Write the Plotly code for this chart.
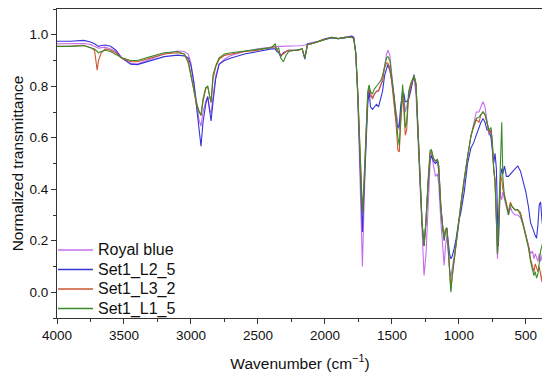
import plotly.graph_objects as go

wavenumber = [4000, 3900, 3800, 3750, 3720, 3700, 3690, 3670, 3640, 3600, 3560, 3520, 3450, 3400, 3300, 3200,
              3100, 3050, 3020, 3000, 2980, 2960, 2940, 2925, 2910, 2890, 2875, 2860, 2850, 2835, 2815, 2790,
              2750, 2700, 2600, 2500, 2400, 2370, 2360, 2345, 2330, 2310, 2290, 2270, 2200, 2170, 2150, 2130,
              2100, 2050, 2000, 1950, 1900, 1850, 1800, 1785, 1770, 1755, 1740, 1730, 1720, 1710, 1700, 1690,
              1680, 1670, 1660, 1645, 1630, 1615, 1600, 1585, 1570, 1555, 1540, 1530, 1515, 1500, 1485, 1470,
              1455, 1445, 1435, 1420, 1410, 1400, 1390, 1375, 1360, 1345, 1335, 1320, 1305, 1290, 1275, 1260,
              1245, 1230, 1215, 1205, 1190, 1175, 1160, 1150, 1135, 1120, 1110, 1100, 1090, 1080, 1070, 1060,
              1050, 1035, 1020, 1000, 985, 960, 935, 910, 890, 870, 850, 835, 820, 805, 790, 775,
              760, 750, 740, 730, 720, 712, 705, 695, 688, 680, 672, 660, 645, 630, 615, 600,
              580, 560, 540, 520, 500, 480, 465, 450, 440, 430, 420, 410, 400, 390, 380, 372]

royal_blue = [.965, .965, .966, .962, .955, .950, .948, .950, .952, .945, .935, .910, .888, .886, .905, .925,
              .937, .935, .925, .890, .820, .740, .670, .645, .700, .740, .760, .710, .695, .760, .840, .885,
              .905, .920, .935, .945, .953, .954, .955, .955, .955, .955, .955, .955, .957, .958, .960, .965,
              .970, .975, .985, .990, .985, .990, .995, .990, .930, .760, .500, .250, .100, .300, .500, .640,
              .760, .800, .760, .760, .770, .780, .780, .800, .830, .880, .925, .940, .920, .840, .760, .700,
              .660, .630, .700, .780, .760, .700, .720, .760, .790, .820, .835, .770, .600, .400, .200, .065,
              .150, .330, .500, .540, .490, .450, .460, .420, .280, .150, .104, .180, .220, .160, .090, .060,
              .090, .140, .190, .270, .330, .420, .530, .605, .660, .700, .700, .720, .740, .720, .670, .610,
              .630, .580, .470, .440, .300, .130, .200, .400, .370, .360, .390, .360, .330, .300, .330, .310,
              .300, .300, .290, .260, .220, .180, .150, .160, .130, .150, .130, .120, .150, .120, .140, .160]

set1_l2_5 = [.975, .975, .978, .972, .965, .960, .955, .958, .960, .955, .940, .912, .886, .884, .900, .915,
             .921, .918, .910, .880, .820, .720, .630, .567, .660, .730, .760, .700, .665, .740, .830, .885,
             .900, .910, .925, .935, .945, .945, .935, .930, .915, .930, .935, .940, .940, .945, .905, .965,
             .965, .975, .982, .988, .985, .988, .995, .990, .930, .770, .550, .380, .234, .370, .500, .620,
             .730, .785, .720, .710, .720, .730, .720, .750, .780, .840, .875, .885, .860, .820, .760, .670,
             .640, .645, .720, .780, .770, .740, .740, .750, .780, .820, .845, .800, .640, .440, .270, .180,
             .280, .420, .520, .530, .510, .500, .510, .470, .330, .250, .200, .240, .250, .200, .150, .130,
             .140, .170, .210, .280, .310, .390, .500, .560, .580, .610, .640, .660, .675, .660, .630, .630,
             .600, .550, .500, .540, .480, .300, .180, .350, .450, .480, .460, .490, .450, .450, .460, .470,
             .480, .490, .470, .430, .390, .330, .270, .250, .230, .220, .210, .260, .340, .350, .280, .250]

set1_l3_2 = [.955, .955, .958, .950, .940, .862, .900, .930, .945, .940, .930, .910, .895, .895, .910, .925,
             .930, .925, .900, .850, .790, .730, .700, .685, .740, .790, .800, .760, .735, .830, .875, .905,
             .920, .925, .935, .940, .950, .955, .940, .935, .920, .925, .935, .940, .940, .945, .910, .962,
             .965, .975, .982, .990, .985, .990, .990, .985, .930, .780, .600, .420, .310, .400, .520, .650,
             .770, .790, .770, .750, .770, .780, .785, .800, .820, .870, .890, .890, .870, .810, .740, .660,
             .550, .545, .650, .770, .700, .610, .630, .770, .800, .830, .840, .810, .630, .430, .270, .180,
             .280, .420, .540, .550, .520, .510, .515, .490, .340, .250, .210, .240, .250, .180, .080, .010,
             .060, .130, .190, .270, .340, .440, .530, .607, .640, .670, .660, .690, .700, .690, .660, .620,
             .630, .580, .480, .430, .280, .150, .250, .400, .450, .440, .400, .380, .340, .310, .350, .330,
             .320, .320, .310, .270, .230, .180, .130, .100, .080, .110, .090, .080, .100, .060, .040, .120]

set1_l1_5 = [.955, .955, .958, .950, .945, .935, .930, .935, .940, .935, .925, .912, .900, .900, .915, .930,
             .935, .925, .890, .845, .790, .740, .700, .690, .750, .795, .800, .760, .740, .845, .880, .910,
             .925, .930, .937, .945, .950, .965, .940, .950, .910, .895, .920, .935, .940, .945, .910, .962,
             .965, .975, .982, .990, .985, .990, .990, .985, .930, .780, .600, .420, .310, .400, .520, .660,
             .780, .805, .780, .770, .790, .800, .810, .820, .840, .880, .910, .915, .900, .830, .770, .700,
             .600, .570, .670, .807, .740, .640, .660, .780, .810, .830, .840, .810, .630, .430, .270, .180,
             .280, .430, .550, .555, .520, .510, .516, .490, .336, .250, .207, .245, .245, .180, .080, .000,
             .060, .130, .180, .270, .345, .440, .530, .607, .645, .675, .680, .690, .700, .690, .660, .630,
             .640, .580, .480, .430, .280, .150, .250, .420, .550, .660, .450, .370, .340, .300, .340, .330,
             .320, .320, .300, .260, .220, .170, .120, .080, .065, .080, .055, .070, .120, .160, .180, .200]

series_names = ["Royal blue", "Set1_L2_5", "Set1_L3_2", "Set1_L1_5"]
series_values = [royal_blue, set1_l2_5, set1_l3_2, set1_l1_5]
series_colors = ["#C56CEB", "#3434D8", "#CC5530", "#3A8C2A"]

x_ticks = [4000, 3500, 3000, 2500, 2000, 1500, 1000, 500]
y_ticks = [0.0, 0.2, 0.4, 0.6, 0.8, 1.0]

fig = go.Figure()
for name, vals, color in zip(series_names, series_values, series_colors):
    fig.add_trace(go.Scatter(x=wavenumber, y=vals, mode="lines", name=name,
                             line=dict(color=color, width=1.1), showlegend=False))

# The page body has an 8px default margin, so the figure is sized/offset to compensate.
OFF = 8
W, H = 550 - OFF, 377 - OFF
# plot area in screen pixels: x 57..543, y 9..318
L, T = 57 - OFF, 9 - OFF
R = W - (543 - OFF)
B = H - (318 - OFF)
pw, ph = W - L - R, H - T - B

def px_x(p):
    return (p - OFF - L) / pw

def px_y(p):
    return 1 - (p - OFF - T) / ph

legend_rows = [250, 269.5, 289, 308.5]
for name, color, row in zip(series_names, series_colors, legend_rows):
    fig.add_shape(type="line", xref="paper", yref="paper",
                  x0=px_x(58), x1=px_x(93), y0=px_y(row), y1=px_y(row),
                  line=dict(color=color, width=1.3))
    fig.add_annotation(xref="paper", yref="paper", x=px_x(96), y=px_y(row),
                       xanchor="left", yanchor="middle", text=name, showarrow=False,
                       font=dict(size=16, color="#111"))

font_family = "Liberation Sans, Arial, sans-serif"
fig.update_layout(
    width=W, height=H,
    margin=dict(l=L, r=R, t=T, b=B, pad=0),
    paper_bgcolor="white", plot_bgcolor="white",
    font=dict(family=font_family, size=13, color="#111"),
    showlegend=False,
)
fig.update_xaxes(
    range=[4000, 372], tickvals=x_ticks, ticktext=[str(v) for v in x_ticks],
    ticks="outside", ticklen=5, tickwidth=1, tickcolor="#333",
    minor=dict(dtick=250, tick0=0, ticks="outside", ticklen=3, tickcolor="#333"),
    showline=True, linecolor="#333", linewidth=1.2, mirror=True,
    showgrid=False, zeroline=False, automargin=False,
    tickfont=dict(size=13.5),
    title=dict(text="Wavenumber (cm<sup>−1</sup>)", font=dict(size=15.5), standoff=15),
)
fig.update_yaxes(
    range=[-0.1, 1.1], tickvals=y_ticks, ticktext=[f"{v:.1f}" for v in y_ticks],
    ticks="outside", ticklen=5, tickwidth=1, tickcolor="#333",
    minor=dict(dtick=0.1, tick0=0, ticks="outside", ticklen=3, tickcolor="#333"),
    showline=True, linecolor="#333", linewidth=1.2, mirror=True,
    showgrid=False, zeroline=False, automargin=False,
    tickfont=dict(size=13.5),
    title=dict(text="Normalized transmittance", font=dict(size=15.5), standoff=1),
)

fig.write_html("out.html")
